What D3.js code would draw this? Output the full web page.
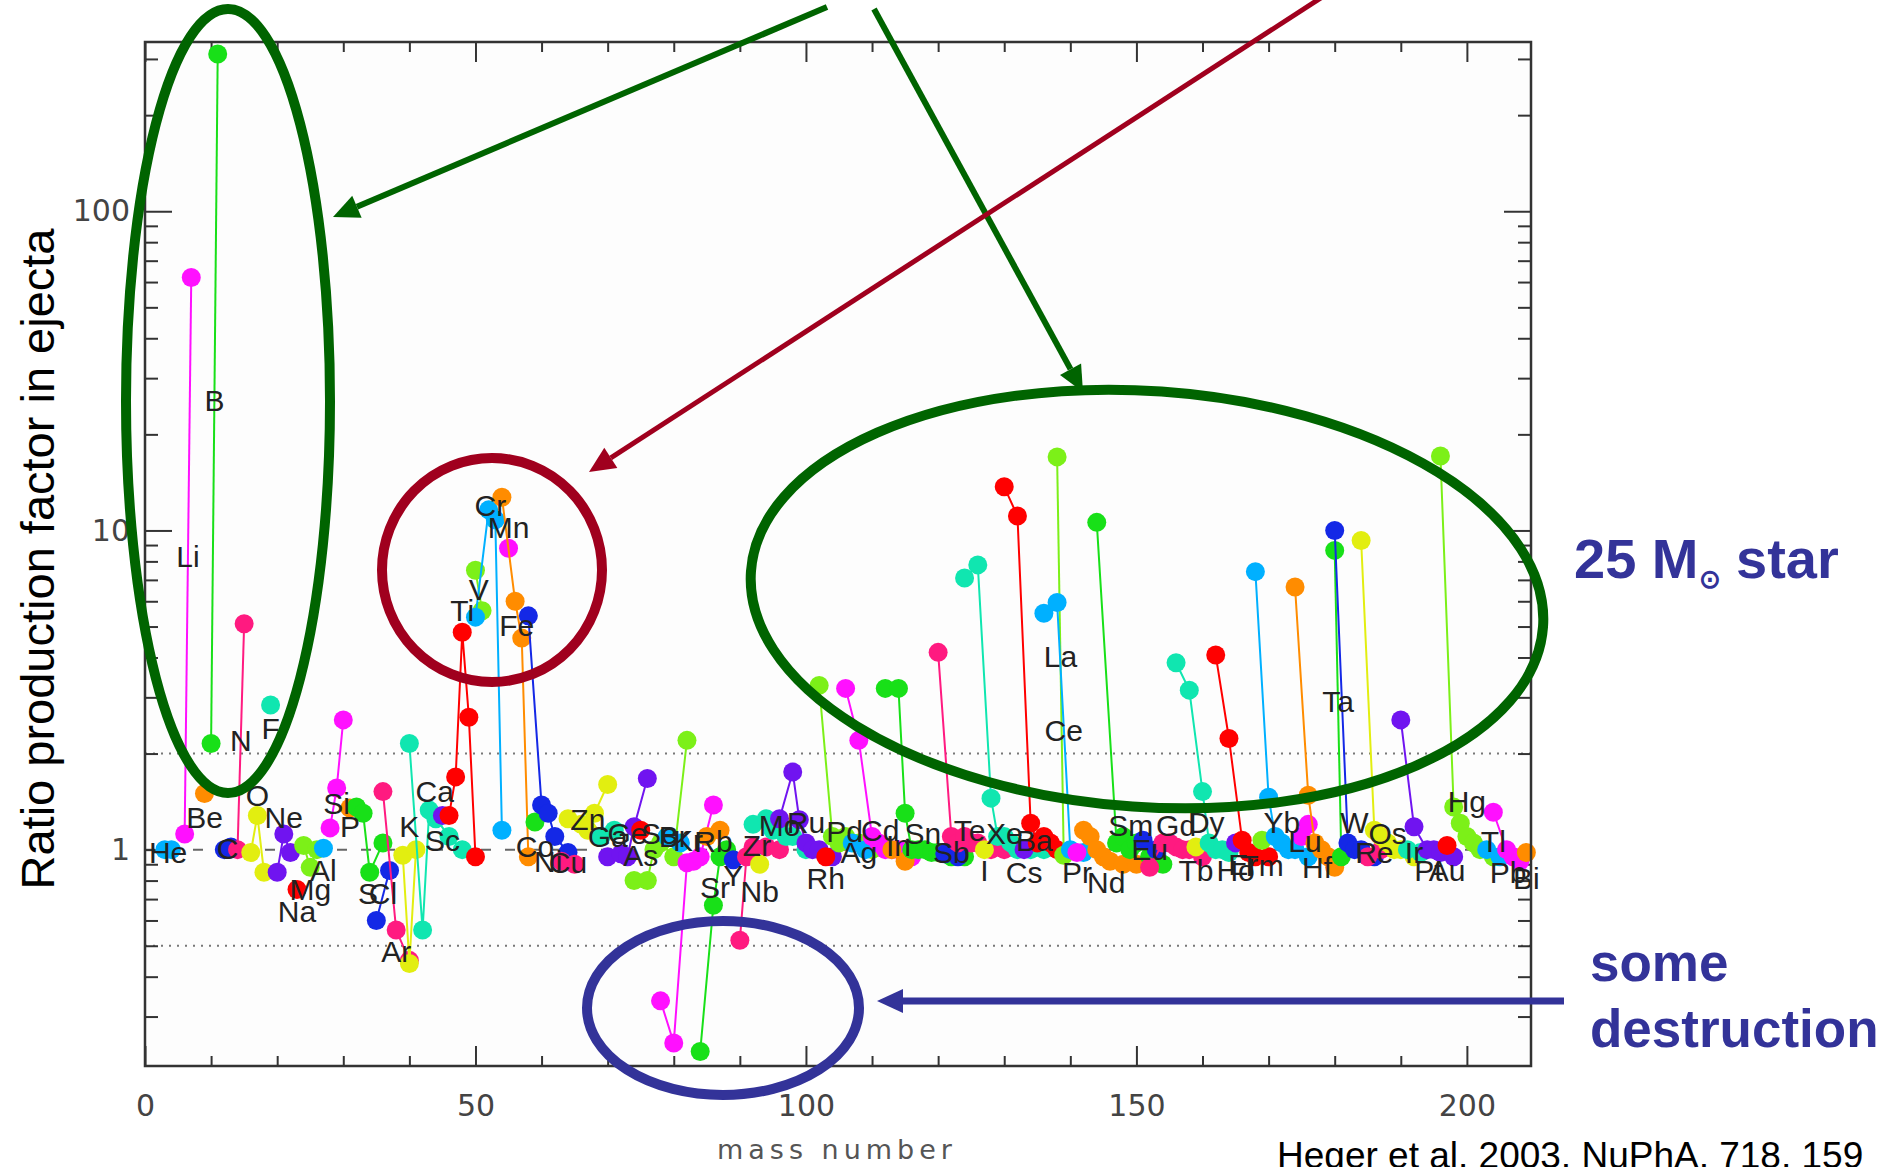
<!DOCTYPE html>
<html lang="en">
<head>
<meta charset="UTF-8">
<title>Production factors in a 25 Msun star</title>
<script src="https://d3js.org/d3.v7.min.js"></script>
<style>
  body { margin: 0; background: #fff; }
  svg { display: block; }
  .el-label { font-family: "Liberation Sans", Arial, sans-serif; font-size: 30px; fill: #222; }
  .callout { font-family: "Liberation Sans", Arial, sans-serif; font-weight: bold; fill: #333399; }
</style>
</head>
<body>
<svg id="chart"></svg>
<script>
// elements in order of Z (Tc and Pm have no stable isotopes)
const elements = ['He','Li','Be','B','C','N','O','F','Ne',
  'Na','Mg','Al','Si','P','S','Cl','Ar',
  'K','Ca','Sc','Ti','V','Cr','Mn','Fe','Co','Ni','Cu','Zn','Ga','Ge','As','Se','Br','Kr',
  'Rb','Sr','Y','Zr','Nb','Mo','Ru','Rh','Pd','Ag','Cd','In','Sn','Sb','Te','I','Xe',
  'Cs','Ba','La','Ce','Pr','Nd','Sm','Eu','Gd','Tb','Dy','Ho','Er','Tm','Yb','Lu',
  'Hf','Ta','W','Re','Os','Ir','Pt','Au','Hg','Tl','Pb','Bi'];

// mass numbers of the isotopes of each element
const masses = [
  [3,4],[6,7],[9],[10,11],[12,13],[14,15],[16,17,18],[19],[20,21,22],
  [23],[24,25,26],[27],[28,29,30],[31],[32,33,34,36],[35,37],[36,38,40],
  [39,40,41],[40,42,43,44,46,48],[45],[46,47,48,49,50],[50,51],[50,52,53,54],[55],[54,56,57,58],[59],
  [58,60,61,62,64],[63,65],[64,66,67,68,70],[69,71],[70,72,73,74,76],[75],[74,76,77,78,80,82],[79,81],
  [78,80,82,83,84,86],
  [85,87],[84,86,87,88],[89],[90,91,92,94,96],[93],[92,94,95,96,97,98,100],[96,98,99,100,101,102,104],
  [103],[102,104,105,106,108,110],[107,109],[106,108,110,111,112,113,114,116],[113,115],
  [112,114,115,116,117,118,119,120,122,124],[121,123],[120,122,123,124,125,126,128,130],[127],
  [124,126,128,129,130,131,132,134,136],
  [133],[130,132,134,135,136,137,138],[138,139],[136,138,140,142],[141],[142,143,144,145,146,148,150],
  [144,147,148,149,150,152,154],[151,153],[152,154,155,156,157,158,160],[159],[156,158,160,161,162,163,164],
  [165],[162,164,166,167,168,170],[169],[168,170,171,172,173,174,176],[175,176],
  [174,176,177,178,179,180],[180,181],[180,182,183,184,186],[185,187],[184,186,187,188,189,190,192],
  [191,193],[190,192,194,195,196,198],[197],[196,198,199,200,201,202,204],[203,205],[204,206,207,208],[209]
];

// production factor of each isotope (same layout as masses)
const factors = [
  [1.0,1.0],[1.12,62],[1.5],[2.15,311],[1.0,1.02],[1.0,5.1],[0.98,1.28,0.85],[2.84],[0.85,1.12,0.98],
  [0.75],[1.03,0.88,1.0],[1.01],[1.17,1.56,2.55],[1.35],[1.36,1.3,0.85,1.05],[0.6,0.86],[1.52,0.56,0.45],
  [0.96,0.44,1.0],[2.15,0.56,1.33,1.25,1.1,1.0],[1.28],[1.28,1.69,4.8,2.6,0.95],[7.5,5.6],[5.35,11.6,10.8,1.15],[8.8],[12.7,6.0,4.6,0.95],[1.22],
  [5.4,1.38,1.3,1.1,0.98],[0.92,0.9],[1.25,1.2,1.15,1.3,1.6],[1.1,1.15],[0.95,0.97,0.95,1.18,1.67],[1.15],[0.8,0.8,1.0,1.05,0.95,2.2],[1.1,1.05],
  [0.336,0.248,0.91,0.92,0.95,1.38],
  [1.1,1.15],[0.233,0.67,0.95,1.0],[0.93],[0.52,0.95,1.02,1.02,1.0],[0.9],[1.2,1.25,1.15,1.2,1.1,1.1,1.0],[1.25,1.75,1.24,1.05,1.0,1.0,0.95],
  [0.95],[3.27,1.1,1.05,1.1,1.05,1.0],[1.05,1.0],[3.2,2.2,1.1,1.05,1.0,1.0,1.0,0.95],[1.0,0.92],
  [3.2,3.2,1.3,1.0,1.0,1.0,0.98,0.98,0.95,0.95],[0.97,0.95],[4.15,1.1,1.05,1.1,1.05,1.05,1.0,1.0],[1.0],
  [7.1,7.8,1.45,1.1,1.1,1.05,1.0,1.0,1.0],
  [1.0],[13.7,11.1,1.21,1.05,1.1,1.05,1.0],[17.0,0.96],[5.5,5.95,1.0,0.98],[0.98],[1.15,1.1,1.0,0.95,0.92,0.9,0.9],
  [10.6,1.05,1.1,1.0,1.05,0.95,0.9],[1.07,1.0],[0.88,1.05,1.05,1.02,1.0,1.0,0.95],[1.02],[3.85,3.16,1.52,1.05,1.0,1.0,0.98],
  [1.05],[4.07,2.23,1.07,0.98,0.95,0.95],[1.07],[7.43,1.46,1.1,1.05,1.0,1.0,0.95],[1.1,1.2],
  [6.65,1.48,1.05,1.0,0.95,0.88],[8.66,0.95],[10.0,1.05,1.0,1.0,0.95],[0.95,1.0],[9.3,1.15,1.1,1.05,1.0,1.0,0.95],
  [1.0,0.98],[2.55,1.18,1.0,1.0,0.98,0.95],[1.03],[17.1,1.36,1.21,1.1,1.05,1.0,0.95],[1.0,0.95],[1.31,1.0,0.95,0.92],[0.98]
];

// production factor at which each element symbol is written
const labelAt = [
  0.98, 8.3, 1.26, 25.5, 1.01, 2.2, 1.48, 2.4, 1.26,
  0.64, 0.75, 0.86, 1.40, 1.18, 0.73, 0.73, 0.48,
  1.18, 1.52, 1.07, 5.6, 6.55, 12.0, 10.2, 5.05, 1.02, 0.92, 0.91, 1.24, 1.1, 1.12, 0.96, 1.12, 1.1, 1.07,
  1.06, 0.76, 0.83, 1.03, 0.74, 1.19, 1.22, 0.81, 1.14, 0.98, 1.15, 1.03, 1.12, 0.98, 1.15, 0.86, 1.12,
  0.85, 1.07, 4.04, 2.37, 0.85, 0.79, 1.19, 1.0, 1.19, 0.86, 1.22, 0.86, 0.9, 0.89, 1.22, 1.06,
  0.88, 2.92, 1.22, 0.98, 1.12, 0.98, 0.86, 0.86, 1.42, 1.06, 0.85, 0.81
];

const xTicks = [0, 50, 100, 150, 200];
const yTicks = [1, 10, 100];
const dottedLevels = [2, 0.5];

// colours cycle through the elements in order
const palette = ['#00b0ff', '#ff10ff', '#ff8c00', '#18e018', '#1428e6', '#ff1a80',
                 '#e2ee10', '#10e6b0', '#7014f0', '#ff0000', '#7cf018'];

const W = 1895, H = 1167;
const svg = d3.select('#chart').attr('width', W).attr('height', H);

const x = d3.scaleLinear().domain([0, 209.7]).range([145, 1531]);
const y = d3.scaleLog().domain([0.21, 339]).range([1066, 42]);
const color = d3.scaleOrdinal().domain(elements).range(palette);

const [x0, x1] = x.range();
const [y0, y1] = y.range();

// plot frame background
svg.append('rect')
  .attr('x', x0).attr('y', y1)
  .attr('width', x1 - x0).attr('height', y0 - y1)
  .attr('fill', '#fdfdfd');

// reference levels
svg.append('line')
  .attr('x1', x0).attr('x2', x1)
  .attr('y1', y(1)).attr('y2', y(1))
  .attr('stroke', '#666').attr('stroke-width', 2)
  .attr('stroke-dasharray', '10,14');

svg.selectAll('.dotted')
  .data(dottedLevels)
  .enter().append('line')
  .attr('class', 'dotted')
  .attr('x1', x0).attr('x2', x1)
  .attr('y1', d => y(d)).attr('y2', d => y(d))
  .attr('stroke', '#777').attr('stroke-width', 2)
  .attr('stroke-dasharray', '2,6');

// axes: ticks point inward on all four sides
const isMajor = v => Math.abs(Math.log10(v) - Math.round(Math.log10(v))) < 1e-9;
const yMinor = y.ticks().filter(v => !isMajor(v));
const xMinor = d3.range(10, 210, 10).filter(v => v % 50 !== 0);

function styleAxis(g) {
  g.select('.domain').remove();
  g.selectAll('line').attr('stroke', '#333').attr('stroke-width', 2);
  g.attr('font-family', '"DejaVu Sans", sans-serif').attr('font-size', 30);
  g.selectAll('text').attr('fill', '#444');
}

svg.append('g').attr('transform', `translate(0,${y0})`)
  .call(d3.axisBottom(x).tickValues(xMinor).tickSize(-10).tickFormat(''))
  .call(styleAxis);
svg.append('g').attr('transform', `translate(0,${y0})`)
  .call(d3.axisBottom(x).tickValues(xTicks).tickSize(-20).tickPadding(29).tickFormat(d3.format('d')))
  .call(styleAxis);
svg.append('g').attr('transform', `translate(0,${y1})`)
  .call(d3.axisTop(x).tickValues(xMinor).tickSize(-10).tickFormat(''))
  .call(styleAxis);
svg.append('g').attr('transform', `translate(0,${y1})`)
  .call(d3.axisTop(x).tickValues(xTicks).tickSize(-20).tickFormat(''))
  .call(styleAxis);

svg.append('g').attr('transform', `translate(${x0},0)`)
  .call(d3.axisLeft(y).tickValues(yMinor).tickSize(-13).tickFormat(''))
  .call(styleAxis);
svg.append('g').attr('transform', `translate(${x0},0)`)
  .call(d3.axisLeft(y).tickValues(yTicks).tickSize(-27).tickPadding(15).tickFormat(d3.format('d')))
  .call(styleAxis);
svg.append('g').attr('transform', `translate(${x1},0)`)
  .call(d3.axisRight(y).tickValues(yMinor).tickSize(-13).tickFormat(''))
  .call(styleAxis);
svg.append('g').attr('transform', `translate(${x1},0)`)
  .call(d3.axisRight(y).tickValues(yTicks).tickSize(-27).tickFormat(''))
  .call(styleAxis);

// isotopes: one line + dots per element, drawn in order of Z
const line = d3.line().x(d => x(d[0])).y(d => y(d[1]));
const data = elements.map((el, i) => ({
  el,
  pts: masses[i].map((m, j) => [m, factors[i][j]]),
  lab: labelAt[i]
}));

const groups = svg.append('g').selectAll('g')
  .data(data)
  .enter().append('g');

groups.filter(d => d.pts.length > 1)
  .append('path')
  .attr('d', d => line(d.pts))
  .attr('fill', 'none')
  .attr('stroke', d => color(d.el))
  .attr('stroke-width', 2);

groups.selectAll('circle')
  .data(d => d.pts.map(p => ({ el: d.el, p })))
  .enter().append('circle')
  .attr('cx', d => x(d.p[0]))
  .attr('cy', d => y(d.p[1]))
  .attr('r', 9.5)
  .attr('fill', d => color(d.el));

svg.append('g').selectAll('text')
  .data(data)
  .enter().append('text')
  .attr('class', 'el-label')
  .attr('x', d => x(d3.mean(d.pts, p => p[0])))
  .attr('y', d => y(d.lab))
  .attr('text-anchor', 'middle')
  .attr('dominant-baseline', 'central')
  .text(d => d.el);

// frame
svg.append('rect')
  .attr('x', x0).attr('y', y1)
  .attr('width', x1 - x0).attr('height', y0 - y1)
  .attr('fill', 'none')
  .attr('stroke', '#333').attr('stroke-width', 2.5);

// axis titles
svg.append('text')
  .attr('transform', `translate(54,${(y0 + y1) / 2 + 5}) rotate(-90)`)
  .attr('text-anchor', 'middle')
  .attr('font-family', '"Liberation Sans", Arial, sans-serif')
  .attr('font-size', 47)
  .attr('fill', '#000')
  .text('Ratio production factor in ejecta');

svg.append('text')
  .attr('x', (x0 + x1) / 2 - 1)
  .attr('y', 1159)
  .attr('text-anchor', 'middle')
  .attr('font-family', '"DejaVu Sans", sans-serif')
  .attr('font-size', 27)
  .attr('letter-spacing', 5)
  .attr('fill', '#555')
  .text('mass number');

// annotation overlay
const ann = svg.append('g').attr('fill', 'none');

function ellipse(cx, cy, rx, ry, stroke, rot) {
  ann.append('ellipse')
    .attr('cx', cx).attr('cy', cy).attr('rx', rx).attr('ry', ry)
    .attr('transform', `rotate(${rot || 0},${cx},${cy})`)
    .attr('stroke', stroke).attr('stroke-width', 10);
}

function arrow(xa, ya, xb, yb, stroke, width) {
  const L = 26, Wd = 12;
  const len = Math.hypot(xb - xa, yb - ya);
  const ux = (xb - xa) / len, uy = (yb - ya) / len;
  const bx = xb - ux * L, by = yb - uy * L;
  ann.append('line')
    .attr('x1', xa).attr('y1', ya).attr('x2', bx).attr('y2', by)
    .attr('stroke', stroke).attr('stroke-width', width);
  ann.append('polygon')
    .attr('points', [[xb, yb], [bx - uy * Wd, by + ux * Wd], [bx + uy * Wd, by - ux * Wd]].join(' '))
    .attr('fill', stroke);
}

const darkGreen = '#006400', darkRed = '#a0001e', navy = '#333399';

ellipse(228, 401, 102, 392, darkGreen);
ellipse(492, 570, 110, 112, darkRed);
ellipse(1147, 599, 397, 208, darkGreen, 4);
ellipse(723, 1008, 136, 87, navy);

arrow(827, 7, 333, 217, darkGreen, 6);
arrow(874, 9, 1083, 392, darkGreen, 6);
arrow(1330, -8, 589, 472, darkRed, 5);
arrow(1564, 1001, 877, 1001, navy, 7);

const star = svg.append('text')
  .attr('class', 'callout')
  .attr('x', 1574).attr('y', 578)
  .attr('font-size', 56);
star.append('tspan').text('25 M');
star.append('tspan').attr('font-size', 26).attr('dy', 10).text('\u2299');
star.append('tspan').attr('dy', -10).text(' star');

svg.append('text').attr('class', 'callout')
  .attr('x', 1590).attr('y', 981).attr('font-size', 53)
  .text('some');
svg.append('text').attr('class', 'callout')
  .attr('x', 1590).attr('y', 1047).attr('font-size', 53)
  .text('destruction');

svg.append('text')
  .attr('x', 1277).attr('y', 1168)
  .attr('font-family', '"Liberation Sans", Arial, sans-serif')
  .attr('font-size', 37)
  .attr('fill', '#000')
  .text('Heger et al. 2003, NuPhA, 718, 159');
</script>
</body>
</html>
